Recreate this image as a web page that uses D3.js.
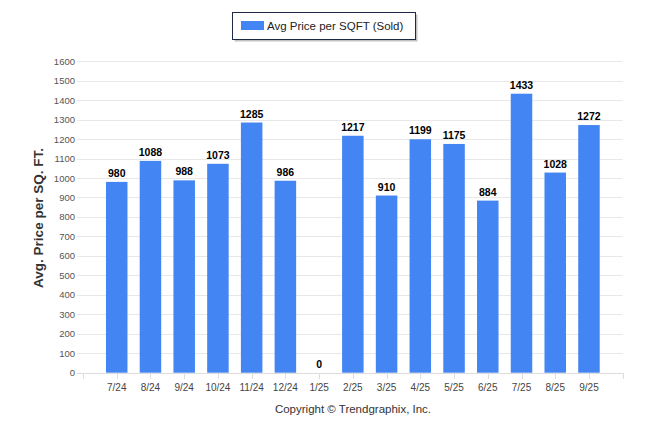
<!DOCTYPE html>
<html><head><meta charset="utf-8">
<script src="https://cdn.jsdelivr.net/npm/d3@7"></script>
<style>body{margin:0;background:#fff;}svg{display:block;}</style>
</head><body><svg id="c" width="646" height="434"></svg>
<script>
const categories = ["7/24","8/24","9/24","10/24","11/24","12/24","1/25","2/25","3/25","4/25","5/25","6/25","7/25","8/25","9/25"];
const values = [980,1088,988,1073,1285,986,0,1217,910,1199,1175,884,1433,1028,1272];
const yTicks = [0,100,200,300,400,500,600,700,800,900,1000,1100,1200,1300,1400,1500,1600];
const seriesName = "Avg Price per SQFT (Sold)";
const yTitle = "Avg. Price per SQ. FT.";
const credit = "Copyright \u00A9 Trendgraphix, Inc.";

const svg = d3.select("#c");
const font = "Tahoma, 'Liberation Sans', Arial, sans-serif";
const L = 83, R = 622.7, T = 61.2, B = 372.7;
const x = d3.scalePoint().domain(categories).range([L, R]).padding(1);
const y = d3.scaleLinear().domain([0, 1600]).range([B, T]);
const barW = 21.5;
const blue = "#4385f3";

// gridlines
svg.append("g").selectAll("line").data(yTicks).join("line")
  .attr("x1", L - 6).attr("x2", R).attr("y1", d => Math.round(y(d)) + 0.5).attr("y2", d => Math.round(y(d)) + 0.5)
  .attr("stroke", "#e8e8e8").attr("stroke-width", 1);

// y tick labels
svg.append("g").selectAll("text").data(yTicks).join("text")
  .attr("x", 75).attr("y", d => y(d) + 3.5).attr("text-anchor", "end")
  .attr("font-family", font).attr("font-size", "9.5px").attr("fill", "#555")
  .text(d => d);

// x axis line and ticks
svg.append("line").attr("x1", L - 6).attr("x2", R).attr("y1", Math.round(B) + 0.5).attr("y2", Math.round(B) + 0.5)
  .attr("stroke", "#dcdcdc");
const tickXs = [L].concat(categories.map(c => x(c))).concat([R]);
svg.append("g").selectAll("line").data(tickXs).join("line")
  .attr("x1", d => Math.round(d) + 0.5).attr("x2", d => Math.round(d) + 0.5)
  .attr("y1", Math.round(B)).attr("y2", Math.round(B) + 6)
  .attr("stroke", "#dcdcdc");

// bars
svg.append("g").selectAll("rect").data(values).join("rect")
  .attr("x", (d, i) => x(categories[i]) - barW / 2)
  .attr("width", barW)
  .attr("y", d => y(d))
  .attr("height", d => B - y(d))
  .attr("fill", blue);

// value labels
svg.append("g").selectAll("text").data(values).join("text")
  .attr("x", (d, i) => x(categories[i]))
  .attr("y", d => y(d) - 5)
  .attr("text-anchor", "middle")
  .attr("font-family", font).attr("font-size", "10.5px").attr("font-weight", "bold").attr("fill", "#000")
  .text(d => d);

// x labels
svg.append("g").selectAll("text").data(categories).join("text")
  .attr("x", d => x(d)).attr("y", 391)
  .attr("text-anchor", "middle")
  .attr("font-family", font).attr("font-size", "10px").attr("fill", "#444")
  .text(d => d);

// y title
svg.append("text")
  .attr("transform", "translate(43,218) rotate(-90)")
  .attr("text-anchor", "middle")
  .attr("font-family", font).attr("font-size", "13.5px").attr("font-weight", "bold").attr("fill", "#333")
  .text(yTitle);

// credit
svg.append("text").attr("x", 353).attr("y", 413).attr("text-anchor", "middle")
  .attr("font-family", font).attr("font-size", "11.5px").attr("fill", "#333")
  .text(credit);

// legend
const lg = svg.append("g");
lg.append("rect").attr("x", 234.5).attr("y", 14.5).attr("width", 183).attr("height", 27).attr("fill", "#999").attr("opacity", 0.6);
lg.append("rect").attr("x", 232.5).attr("y", 12.5).attr("width", 183).attr("height", 27).attr("fill", "#fff").attr("stroke", "#1c2a48").attr("stroke-width", 1);
lg.append("rect").attr("x", 241).attr("y", 21).attr("width", 23).attr("height", 9).attr("fill", blue);
lg.append("text").attr("x", 267).attr("y", 30).attr("font-family", font).attr("font-size", "11.5px").attr("fill", "#222")
  .text(seriesName);
</script></body></html>
